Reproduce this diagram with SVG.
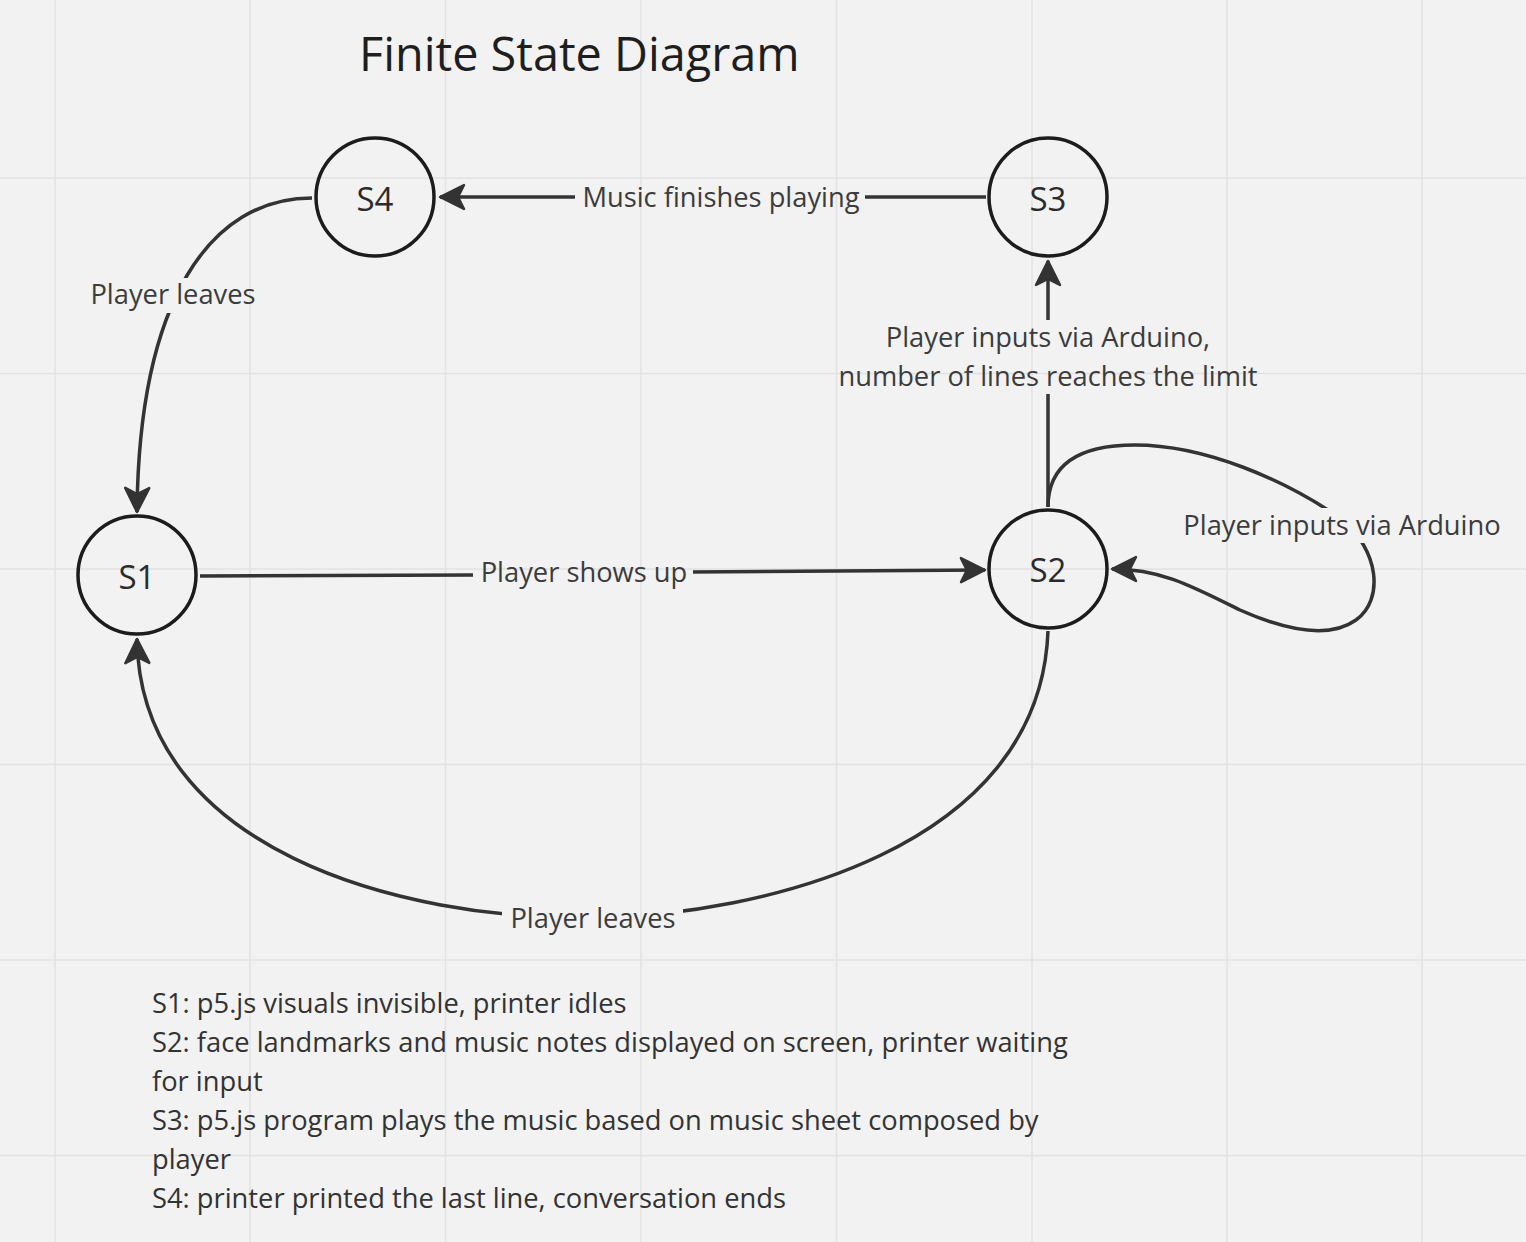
<svg xmlns="http://www.w3.org/2000/svg" width="1526" height="1242" viewBox="0 0 1526 1242">
<style>
.grid line{stroke:#e2e2e2;stroke-width:1.5}
.node circle{fill:none;stroke:#1c1c1c;stroke-width:3.5}
.node text{font-family:"Open Sans","Noto Sans",sans-serif;font-size:33px;fill:#2b2b2b;text-anchor:middle}
.edge{fill:none;stroke:#333;stroke-width:3.5}
.lbl{font-family:"Open Sans","Noto Sans",sans-serif;font-size:27.3px;fill:#3c3c3c;text-anchor:middle}
.legend{font-family:"Open Sans","Noto Sans",sans-serif;font-size:27.3px;fill:#333}
.title{font-family:"Open Sans","Noto Sans",sans-serif;font-size:46.8px;fill:#1e1e1e}
</style>
<defs>
<marker id="arr" markerUnits="userSpaceOnUse" viewBox="-28 -16 32 32" markerWidth="32" markerHeight="32" refX="0" refY="0" orient="auto">
<path d="M0,0 L-24,-12 L-18,0 L-24,12 Z" fill="#333" stroke="#333" stroke-width="2.5" stroke-linejoin="round"/>
</marker>
<mask id="lblmask" maskUnits="userSpaceOnUse" x="0" y="0" width="1526" height="1242">
<rect x="0" y="0" width="1526" height="1242" fill="#fff"/>
<rect x="575" y="180" width="290" height="36" fill="#000"/>
<rect x="473" y="555" width="220" height="36" fill="#000"/>
<rect x="85" y="278" width="177" height="35" fill="#000"/>
<rect x="830" y="320" width="440" height="74" fill="#000"/>
<rect x="1178" y="508" width="330" height="35" fill="#000"/>
<rect x="502" y="900" width="181" height="38" fill="#000"/>
</mask>
</defs>
<rect x="0" y="0" width="1526" height="1242" fill="#f2f2f2"/>
<g class="grid">
<line x1="55" y1="0" x2="55" y2="1242"/>
<line x1="250" y1="0" x2="250" y2="1242"/>
<line x1="445.5" y1="0" x2="445.5" y2="1242"/>
<line x1="641" y1="0" x2="641" y2="1242"/>
<line x1="836.5" y1="0" x2="836.5" y2="1242"/>
<line x1="1032" y1="0" x2="1032" y2="1242"/>
<line x1="1227" y1="0" x2="1227" y2="1242"/>
<line x1="1422" y1="0" x2="1422" y2="1242"/>
<line x1="0" y1="178" x2="1526" y2="178"/>
<line x1="0" y1="373.5" x2="1526" y2="373.5"/>
<line x1="0" y1="569" x2="1526" y2="569"/>
<line x1="0" y1="764.5" x2="1526" y2="764.5"/>
<line x1="0" y1="960" x2="1526" y2="960"/>
<line x1="0" y1="1155.5" x2="1526" y2="1155.5"/>
</g>
<text class="title" x="359" y="71">Finite State Diagram</text>
<g id="connectors">
<g mask="url(#lblmask)">
<path class="edge" d="M986,197 L440,197" marker-end="url(#arr)"/>
<path class="edge" d="M312,198 C210,198 139,300 137,512" marker-end="url(#arr)"/>
<path class="edge" d="M200,576 L474,575 M690,572 L985,570" marker-end="url(#arr)"/>
<path class="edge" d="M1048,507 L1048,261" marker-end="url(#arr)"/>
<path class="edge" d="M1048,507 C1048,460 1085,445 1135,445 C1205,445 1285,480 1340,518 C1380,550 1384,600 1356,620 C1328,640 1285,630 1240,610 C1190,585 1160,569 1112,569" marker-end="url(#arr)"/>
<path class="edge" d="M1048,631 C1040,850 760,915 593,918 C400,920 140,850 137,639" marker-end="url(#arr)"/>
</g>
<text class="lbl" x="721" y="207">Music finishes playing</text>
<text class="lbl" x="173" y="304">Player leaves</text>
<text class="lbl" x="584" y="582">Player shows up</text>
<text class="lbl" x="1048" y="347">Player inputs via Arduino,</text>
<text class="lbl" x="1048" y="386">number of lines reaches the limit</text>
<text class="lbl" x="1342" y="535">Player inputs via Arduino</text>
<text class="lbl" x="593" y="928">Player leaves</text>
</g>
<g id="S4" class="node"><circle cx="375" cy="197" r="59"/><text x="375" y="211">S4</text></g>
<g id="S3" class="node"><circle cx="1048" cy="197" r="59"/><text x="1048" y="211">S3</text></g>
<g id="S1" class="node"><circle cx="137" cy="575" r="59"/><text x="137" y="589">S1</text></g>
<g id="S2" class="node"><circle cx="1048" cy="569" r="59"/><text x="1048" y="582">S2</text></g>
<g id="legend" class="legend">
<text x="152" y="1013">S1: p5.js visuals invisible, printer idles</text>
<text x="152" y="1052">S2: face landmarks and music notes displayed on screen, printer waiting</text>
<text x="152" y="1091">for input</text>
<text x="152" y="1130">S3: p5.js program plays the music based on music sheet composed by</text>
<text x="152" y="1169">player</text>
<text x="152" y="1208">S4: printer printed the last line, conversation ends</text>
</g>
</svg>
